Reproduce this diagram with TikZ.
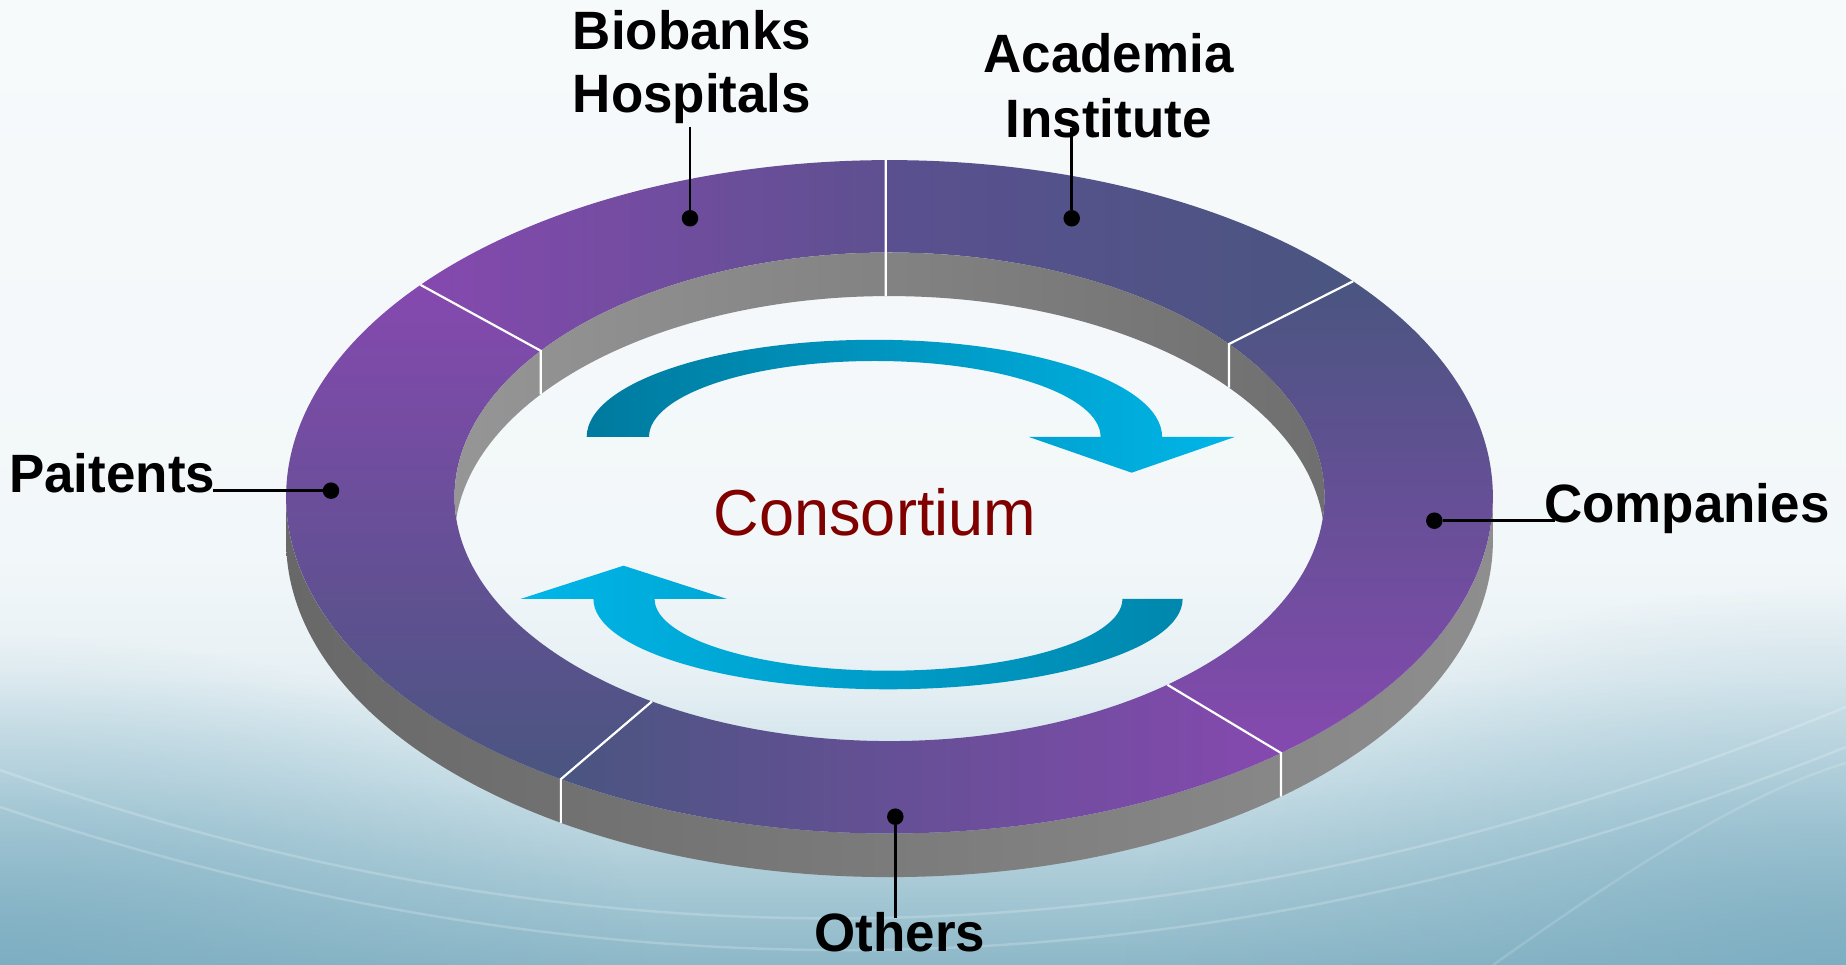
\documentclass[tikz,border=0pt]{standalone}
\usepackage{fontspec}
\setmainfont{Liberation Sans}
\newfontfamily\labfont{Liberation Sans}[FakeStretch=0.98]
\newfontfamily\consfont{Liberation Sans}[FakeStretch=0.97]
\usetikzlibrary{fadings}
\definecolor{pur}{HTML}{8549AF}
\definecolor{slb}{HTML}{4A5580}
\definecolor{midA}{HTML}{5E5090}
\definecolor{midB}{HTML}{5A5090}
\definecolor{wallL}{HTML}{686868}
\definecolor{wallR}{HTML}{8E8E8E}
\definecolor{iwL}{HTML}{969696}
\definecolor{iwR}{HTML}{6E6E6E}
\definecolor{arrDark}{HTML}{007A9E}
\definecolor{arrBright}{HTML}{00B6E8}
\definecolor{arrDarkB}{HTML}{0087AD}
\definecolor{cons}{HTML}{800000}
\definecolor{bg0}{HTML}{8DB8C8}
\definecolor{bg1}{HTML}{A9CAD6}
\definecolor{bg2}{HTML}{CBE0E8}
\definecolor{bg3}{HTML}{E6F0F4}
\definecolor{bg4}{HTML}{F2F7F9}
\definecolor{bg5}{HTML}{F7FAFB}
\definecolor{bgcorner}{HTML}{76AABF}
\pgfdeclareverticalshading{bgshade}{100bp}{color(0bp)=(bg0); color(25bp)=(bg0); color(29.4bp)=(bg1); color(34.6bp)=(bg2); color(39.8bp)=(bg3); color(46bp)=(bg4); color(75bp)=(bg5); color(100bp)=(bg5)}
\tikzfading[name=cornerfade, inner color=transparent!30, outer color=transparent!100]
\tikzset{
  lab/.style={font=\labfont\bfseries\fontsize{54}{64}\selectfont, text=black, inner sep=0pt},
  dot/.style={circle, fill=black, minimum size=16.5pt, inner sep=0pt},
  conn/.style={draw=black, line width=2.6pt},
  sepline/.style={draw=white, line width=2.2pt},
  streak/.style={draw=white, opacity=0.2, line width=2.5pt}
}
\begin{document}
\begin{tikzpicture}[x=1pt,y=1pt]
\useasboundingbox (0,0) rectangle (1846,965);
% background
\shade[shading=bgshade] (0,0) rectangle (1846,965);
\begin{scope}
\clip (0,0) rectangle (1846,965);
\fill[bgcorner, path fading=cornerfade] (0,0) ellipse [x radius=650, y radius=330];
\fill[bgcorner, path fading=cornerfade] (1846,0) ellipse [x radius=720, y radius=380];
\draw[streak] (0,195) .. controls (650,-35) and (1250,15) .. (1846,258);
\draw[streak] (0,158) .. controls (650,-60) and (1250,-20) .. (1846,218);
\draw[streak, opacity=0.15] (1493,0) .. controls (1620,90) and (1740,170) .. (1846,202);
\end{scope}
% outer wall
\shade[left color=wallL, right color=wallR] (286.1,468.2) -- (286.1,424.6)
  arc[start angle=180, end angle=360, x radius=603.4, y radius=336.7] -- (1492.9,468.2)
  arc[start angle=0, end angle=-180, x radius=603.4, y radius=336.7] -- cycle;
\begin{scope}[shift={(889.5,468.2)}]
% ring segments
\shade[left color=pur, right color=midA] (90.36:603.4 and 336.7)
  arc[start angle=90.36, end angle=141, x radius=603.4, y radius=336.7] -- (143.3:435 and 244.3)
  arc[start angle=143.3, end angle=90.5, x radius=435, y radius=244.3] -- cycle;
\shade[left color=midB, right color=slb] (39.8:603.4 and 336.7)
  arc[start angle=39.8, end angle=90.36, x radius=603.4, y radius=336.7] -- (90.5:435 and 244.3)
  arc[start angle=90.5, end angle=38.7, x radius=435, y radius=244.3] -- cycle;
\shade[top color=slb, bottom color=pur] (-49.55:603.4 and 336.7)
  arc[start angle=-49.55, end angle=39.8, x radius=603.4, y radius=336.7] -- (38.7:435 and 244.3)
  arc[start angle=38.7, end angle=-50.3, x radius=435, y radius=244.3] -- cycle;
\shade[left color=slb, right color=pur] (-123:603.4 and 336.7)
  arc[start angle=-123, end angle=-49.55, x radius=603.4, y radius=336.7] -- (-50.3:435 and 244.3)
  arc[start angle=-50.3, end angle=-123.1, x radius=435, y radius=244.3] -- cycle;
\shade[top color=pur, bottom color=slb] (141:603.4 and 336.7)
  arc[start angle=141, end angle=237, x radius=603.4, y radius=336.7] -- (236.9:435 and 244.3)
  arc[start angle=236.9, end angle=143.3, x radius=435, y radius=244.3] -- cycle;
% inner wall
\shade[left color=iwL, right color=iwR] (-5.12:435 and 244.3)
  arc[start angle=-5.12, end angle=185.12, x radius=435, y radius=244.3]
  arc[start angle=174.88, end angle=5.12, x radius=435, y radius=244.3] -- cycle;
% separating lines
\draw[sepline] (90.36:603.4 and 336.7) -- (90.5:435 and 244.3) -- ++(0,-43.6);
\draw[sepline] (141:603.4 and 336.7) -- (143.3:435 and 244.3) -- ++(0,-43.6);
\draw[sepline] (39.8:603.4 and 336.7) -- (38.7:435 and 244.3) -- ++(0,-43.6);
\draw[sepline] (-50.3:435 and 244.3) -- (-49.55:603.4 and 336.7) -- ++(0,-43.6);
\draw[sepline] (-123.1:435 and 244.3) -- (-123:603.4 and 336.7) -- ++(0,-43.6);
\end{scope}
% cycle arrows
\shade[left color=arrDark, right color=arrBright] (586.7,528)
  arc[start angle=180, end angle=0, x radius=287.7, y radius=97.2] -- (1234.7,528) -- (1131.6,492.3) -- (1029,528) -- (1100.6,528)
  arc[start angle=0, end angle=180, x radius=225.8, y radius=76] -- cycle;
\shade[left color=arrBright, right color=arrDarkB] (1182.6,366)
  arc[start angle=0, end angle=-180, x radius=294.6, y radius=90.3] -- (520.4,366) -- (623.5,399.3) -- (727,366) -- (654.6,366)
  arc[start angle=180, end angle=360, x radius=233.9, y radius=71.7] -- cycle;
% centre text
\node[font=\consfont\fontsize{65}{70}\selectfont, text=cons, inner sep=0pt, anchor=base] (cons) at (875,429) {Consortium};
% labels
\node[lab, anchor=base] (bio) at (692,915.5) {Biobanks};
\node[lab, anchor=base] (hosp) at (692,852) {Hospitals};
\node[lab, anchor=base] (acad) at (1108.5,892.3) {Academia};
\node[lab, anchor=base] (inst) at (1108.5,827.7) {Institute};
\node[lab, anchor=base west] (pat) at (9,472.3) {Paitents};
\node[lab, anchor=base west] (comp) at (1544,442) {Companies};
\node[lab, anchor=base] (oth) at (900,13) {Others};
% dots
\node[dot] (dB) at (690,746.7) {};
\node[dot] (dA) at (1071.7,746.7) {};
\node[dot] (dP) at (331,474.3) {};
\node[dot] (dC) at (1434.3,444.3) {};
\node[dot] (dO) at (895.3,148.3) {};
% connector free ends
\coordinate (eB) at (690,838.3);
\coordinate (eA) at (1071.7,837);
\coordinate (eP) at (213,474.3);
\coordinate (eC) at (1555,444.3);
\coordinate (eO) at (895.3,47);
\draw[conn] (eB) -- (dB);
\draw[conn] (eA) -- (dA);
\draw[conn] (eP) -- (dP);
\draw[conn] (dC) -- (eC);
\draw[conn] (dO) -- (eO);
\end{tikzpicture}
\end{document}
